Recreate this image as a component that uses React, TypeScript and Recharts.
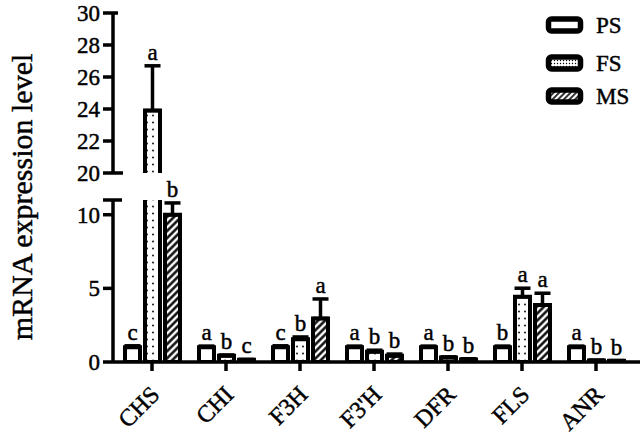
import React from 'react';
import { BarChart, Bar, XAxis, YAxis, ErrorBar, LabelList, Legend } from 'recharts';

const genes = ['CHS', 'CHI', 'F3H', "F3'H", 'DFR', 'FLS', 'ANR'];
const psMean = [1.0, 1.0, 1.0, 1.0, 1.0, 1.0, 1.0];
const psErr = [0.1, 0.08, 0.1, 0.08, 0.08, 0.08, 0.08];
const psLetter = ['c', 'a', 'c', 'a', 'a', 'b', 'a'];
const fsMean = [23.9, 0.42, 1.55, 0.7, 0.3, 4.43, 0.1];
const fsErr = [2.8, 0.06, 0.15, 0.1, 0.05, 0.58, 0.03];
const fsLetter = ['a', 'b', 'b', 'b', 'b', 'a', 'b'];
const msMean = [10.0, 0.15, 2.96, 0.42, 0.17, 3.87, 0.08];
const msErr = [0.8, 0.03, 1.32, 0.12, 0.05, 0.8, 0.02];
const msLetter = ['b', 'c', 'a', 'b', 'b', 'a', 'b'];

const lowerDomain: [number, number] = [0, 11];
const upperDomain: [number, number] = [20, 30];
const lowerTicks = [0, 5, 10, 11];
const upperTicks = [20, 22, 24, 26, 28, 30];
const breakExt: Record<string, number> = { lower11: 9, upper20: 10, upper30: 5 };

const seriesDefs = [
  { key: 'ps', name: 'PS', mean: psMean, err: psErr, letter: psLetter },
  { key: 'fs', name: 'FS', mean: fsMean, err: fsErr, letter: fsLetter },
  { key: 'ms', name: 'MS', mean: msMean, err: msErr, letter: msLetter },
];

const FONT = '"Liberation Serif", "Times New Roman", serif';
const TXT = { fontFamily: FONT, fill: '#000', stroke: '#000', strokeWidth: 0.45 };

type Row = Record<string, any>;

// lower panel: bars start at 0; upper panel: bars continue from the top of the lower panel
function buildRows(domain: [number, number], start: number | null): Row[] {
  return genes.map((g, i) => {
    const r: Row = { gene: g };
    seriesDefs.forEach((s) => {
      const v = s.mean[i];
      const visible = v > domain[0];
      const fits = v + s.err[i] <= domain[1] && visible;
      r[s.key] = visible ? (start == null ? v : [start, v]) : null;
      r[s.key + 'V'] = v;
      r[s.key + 'E'] = fits ? [0, s.err[i]] : null;
      r[s.key + 'Err'] = s.err[i];
      r[s.key + 'L'] = fits ? s.letter[i] : null;
    });
    return r;
  });
}

const lowerRows = buildRows(lowerDomain, null);
const upperRows = buildRows(upperDomain, lowerDomain[1]);

const makeLetter = (rows: Row[], key: string, base: number) => (props: any) => {
  const vb = props.viewBox || props;
  const x = Number(props.x ?? vb.x);
  const y = Number(props.y ?? vb.y);
  const width = Number(props.width ?? vb.width);
  const height = Number(props.height ?? vb.height);
  const row = rows[props.index];
  if (!row || row[key + 'L'] == null || row[key] == null) return null;
  const pxPer = Math.abs(height) / (row[key + 'V'] - base);
  const top = Math.min(y, y + height) - row[key + 'Err'] * pxPer;
  return (
    <text x={x + width / 2} y={top - 6} textAnchor="middle" fontSize={23} {...TXT}>
      {row[key + 'L']}
    </text>
  );
};

const makeYTick = (prefix: string, hideLabels: number[]) => (props: any) => {
  const { x, y, payload } = props;
  const v = payload.value;
  const axisX = x + 13;
  const ext = breakExt[prefix + v];
  return (
    <g>
      {ext ? <line x1={axisX} x2={axisX + ext} y1={y} y2={y} stroke="#000" strokeWidth={3.5} /> : null}
      {hideLabels.includes(v) ? null : (
        <text x={x} y={y} dy={8} textAnchor="end" fontSize={23} {...TXT}>
          {v}
        </text>
      )}
    </g>
  );
};

const XTick = (props: any) => {
  const { x, y, payload } = props;
  const ax = x + 9;
  const ay = y + 23;
  return (
    <text x={ax} y={ay} textAnchor="end" transform={`rotate(-45, ${ax}, ${ay})`} fontSize={24} {...TXT}>
      {payload.value}
    </text>
  );
};

const Patterns = ({ suffix }: { suffix: string }) => (
  <defs>
    <pattern id={'dots' + suffix} patternUnits="userSpaceOnUse" width={6} height={7}>
      <rect width={6} height={7} fill="#fff" />
      <circle cx={3} cy={3.5} r={0.9} fill="#000" />
    </pattern>
    <pattern id={'hatch' + suffix} patternUnits="userSpaceOnUse" width={5} height={5} patternTransform="rotate(45)">
      <rect width={5} height={5} fill="#fff" />
      <line x1={1.5} y1={0} x2={1.5} y2={5} stroke="#000" strokeWidth={2.4} />
    </pattern>
  </defs>
);

const fillFor = (key: string, suffix: string) =>
  key === 'ps' ? '#fff' : key === 'fs' ? `url(#dots${suffix})` : `url(#hatch${suffix})`;

const legendYs = [20, 58, 91];

const LegendContent = () => (
  <svg width={100} height={110} style={{ display: 'block' }}>
    <defs>
      <pattern id="dotsLeg" patternUnits="userSpaceOnUse" width={3} height={3}>
        <rect width={3} height={3} fill="#fff" />
        <circle cx={1.5} cy={1.5} r={0.7} fill="#000" />
      </pattern>
      <pattern id="hatchLeg" patternUnits="userSpaceOnUse" width={4} height={4} patternTransform="rotate(45)">
        <rect width={4} height={4} fill="#fff" />
        <line x1={1} y1={0} x2={1} y2={4} stroke="#000" strokeWidth={1.6} />
      </pattern>
    </defs>
    {seriesDefs.map((s, i) => (
      <g key={s.key}>
        <rect
          x={10.5}
          y={legendYs[i] - 6}
          width={32}
          height={12}
          rx={3}
          fill={fillFor(s.key, 'Leg')}
          stroke="#000"
          strokeWidth={5.5}
        />
        <text x={58} y={legendYs[i] + 8} fontSize={23} {...TXT}>
          {s.name}
        </text>
      </g>
    ))}
  </svg>
);

const axisStroke = { stroke: '#000', strokeWidth: 3.5 };

export default function App() {
  return (
    <div style={{ position: 'absolute', left: 0, top: 0, width: 644, height: 440, background: '#fff' }}>
      <div style={{ position: 'absolute', left: 0, top: 0 }}>
        <BarChart
          width={644}
          height={440}
          data={lowerRows}
          margin={{ top: 200, right: 4, bottom: 8, left: 40 }}
          barSize={15}
          barGap={5}
        >
          <Patterns suffix="Lo" />
          <XAxis
            dataKey="gene"
            interval={0}
            padding={{ left: 2, right: 7 }}
            height={70}
            tickSize={9}
            tickMargin={2}
            axisLine={axisStroke}
            tickLine={axisStroke}
            tick={<XTick />}
          />
          <YAxis
            width={73}
            domain={lowerDomain}
            ticks={lowerTicks}
            allowDataOverflow
            interval={0}
            tickSize={10}
            tickMargin={3}
            axisLine={axisStroke}
            tickLine={axisStroke}
            tick={makeYTick('lower', [11])}
          />
          {seriesDefs.map((s) => (
            <Bar
              key={s.key}
              dataKey={s.key}
              name={s.name}
              fill={fillFor(s.key, 'Lo')}
              stroke="#000"
              strokeWidth={4}
              isAnimationActive={false}
            >
              <ErrorBar dataKey={s.key + 'E'} width={8} stroke="#000" strokeWidth={3.5} direction="y" />
              <LabelList dataKey={s.key + 'L'} content={makeLetter(lowerRows, s.key, 0)} />
            </Bar>
          ))}
        </BarChart>
      </div>
      <div style={{ position: 'absolute', left: 0, top: 0 }}>
        <BarChart
          width={644}
          height={440}
          data={upperRows}
          margin={{ top: 13, right: 4, bottom: 267, left: 40 }}
          barSize={15}
          barGap={5}
        >
          <Patterns suffix="Up" />
          <XAxis dataKey="gene" hide interval={0} padding={{ left: 2, right: 7 }} />
          <YAxis
            width={73}
            domain={upperDomain}
            ticks={upperTicks}
            allowDataOverflow
            interval={0}
            tickSize={10}
            tickMargin={3}
            axisLine={axisStroke}
            tickLine={axisStroke}
            tick={makeYTick('upper', [])}
            label={() => (
              <text x={32} y={197} transform="rotate(-90, 32, 197)" textAnchor="middle" fontSize={30} {...TXT}>
                mRNA expression level
              </text>
            )}
          />
          <Legend
            layout="vertical"
            align="center"
            verticalAlign="middle"
            content={<LegendContent />}
            wrapperStyle={{ position: 'absolute', left: 538, top: 5, width: 100, height: 110 }}
          />
          {seriesDefs.map((s) => (
            <Bar
              key={s.key}
              dataKey={s.key}
              name={s.name}
              fill={fillFor(s.key, 'Up')}
              stroke="#000"
              strokeWidth={4}
              isAnimationActive={false}
            >
              <ErrorBar dataKey={s.key + 'E'} width={8} stroke="#000" strokeWidth={3.5} direction="y" />
              <LabelList dataKey={s.key + 'L'} content={makeLetter(upperRows, s.key, lowerDomain[1])} />
            </Bar>
          ))}
        </BarChart>
      </div>
    </div>
  );
}
